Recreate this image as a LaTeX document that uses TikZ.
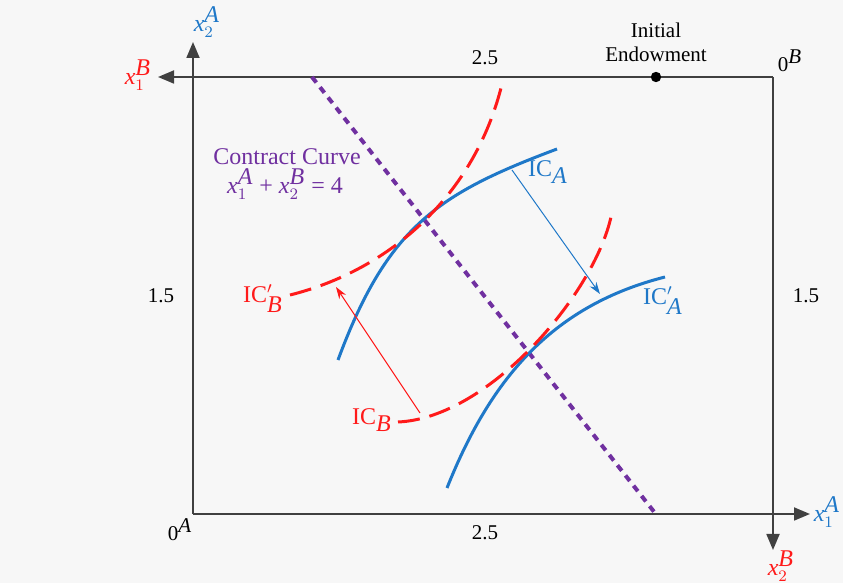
\documentclass[tikz,border=0pt]{standalone}
\usepackage{fontspec}
\setmainfont{Liberation Serif}
\usetikzlibrary{arrows.meta}

\definecolor{bgGray}{HTML}{F7F7F7}
\definecolor{axisGray}{HTML}{404040}
\definecolor{icBlue}{HTML}{1F78C8}
\definecolor{icRed}{HTML}{FF1A1A}
\definecolor{ccPurple}{HTML}{7030A0}

\newcommand{\xv}[2]{\textit{x}$_{#1}^{\textit{#2}}$}

\begin{document}
\begin{tikzpicture}[x=0.5pt, y=-0.5pt, >={Triangle[length=8pt,width=6.5pt]},
    axis/.style={line width=0.9pt, axisGray},
    icA/.style={line width=1.5pt, icBlue},
    icB/.style={line width=1.5pt, icRed, dash pattern=on 11pt off 5pt},
    moveArrow/.style={line width=0.5pt, -{Stealth[length=6pt,width=4pt]}},
    lbl/.style={font=\fontsize{12}{13}\selectfont, inner sep=1pt},
    tick/.style={font=\fontsize{10.5}{12}\selectfont, inner sep=1pt}]
    % Background
    \fill[bgGray] (0,0) rectangle (843,583);
    \useasboundingbox (0,0) rectangle (843,583);

    % Corners of the Edgeworth box
    \coordinate (OA) at (193,514);
    \coordinate (OB) at (773,77);
    \coordinate (tipA1) at (810,514);
    \coordinate (tipA2) at (193,42);
    \coordinate (tipB1) at (158,77);
    \coordinate (tipB2) at (773,550);

    % Draw the axes of A and B
    \draw[axis,->] (OA) -- (tipA1);
    \draw[axis,->] (OA) -- (tipA2);
    \draw[axis,->] (OB) -- (tipB1);
    \draw[axis,->] (OB) -- (tipB2);

    % Axis labels
    \node[lbl, icBlue] (x1A) at (827,512) {\xv{1}{A}};
    \node[lbl, icBlue] (x2A) at (207,22) {\xv{2}{A}};
    \node[lbl, icRed] (x1B) at (138,75) {\xv{1}{B}};
    \node[lbl, icRed] (x2B) at (781,566) {\xv{2}{B}};
    \node[tick] (zeroA) at (180,530) {0$^{\textit{A}}$};
    \node[tick] (zeroB) at (790,61) {0$^{\textit{B}}$};

    % Tick values
    \node[tick] (topv) at (485,58) {2.5};
    \node[tick] (botv) at (485,533) {2.5};
    \node[tick] (leftv) at (161,296) {1.5};
    \node[tick] (rightv) at (806,296) {1.5};

    % Initial endowment
    \fill (656,77) circle (2.6pt);
    \node[tick, align=center] (endow) at (656,42) {Initial\\Endowment};

    % Contract curve
    \draw[ccPurple, line width=2pt, dash pattern=on 3.5pt off 3pt] (312,77) -- (655,513);
    \node[lbl, ccPurple] (cc) at (287,157) {Contract Curve};
    \node[lbl, ccPurple] (ccEq) at (285,184) {\xv{1}{A} + \xv{2}{B} = 4};

    % Indifference curves of A
    \draw[icA] (338,360) .. controls (388,225) and (440,193) .. (557,149);
    \draw[icA] (447,488) .. controls (492,375) and (555,305) .. (665,277);

    % Indifference curves of B
    \draw[icB] (290,295) .. controls (390,270) and (475,195) .. (502,84);
    \draw[icB] (398,422) .. controls (490,418) and (598,290) .. (612,212);

    % Curve labels
    \node[lbl, icBlue] (icAlbl) at (548,172) {IC$_{\textit{A}}$};
    \node[lbl, icBlue] (icApr) at (663,301) {IC$'_{\textit{A}}$};
    \node[lbl, icRed] (icBpr) at (263,299) {IC$'_{\textit{B}}$};
    \node[lbl, icRed] (icBlbl) at (372,420) {IC$_{\textit{B}}$};

    % Shifts of the curves
    \coordinate (sA1) at (512,170);
    \coordinate (sA2) at (600,294);
    \coordinate (sB1) at (420,413);
    \coordinate (sB2) at (336,287);
    \draw[moveArrow, icBlue] (sA1) -- (sA2);
    \draw[moveArrow, icRed] (sB1) -- (sB2);
\end{tikzpicture}
\end{document}
